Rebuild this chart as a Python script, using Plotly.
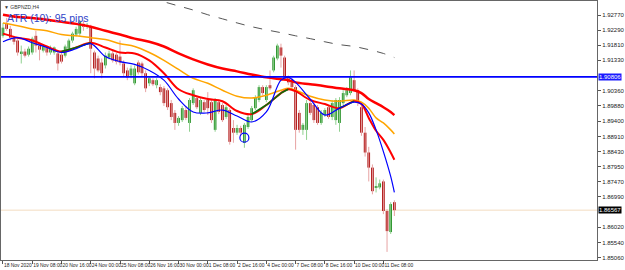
import plotly.graph_objects as go

# ---------------- data ----------------
x_labels = ["18 Nov 2020", "19 Nov 08:00", "20 Nov 16:00", "24 Nov 00:00", "25 Nov 08:00",
            "26 Nov 16:00", "30 Nov 00:00", "1 Dec 08:00", "2 Dec 16:00", "4 Dec 00:00",
            "7 Dec 08:00", "8 Dec 16:00", "10 Dec 00:00", "11 Dec 08:00"]
x_label_bars = [0, 8, 16, 24, 32, 40, 48, 56, 64, 72, 80, 88, 96, 104]

y_tick_vals = [1.92770, 1.92290, 1.91810, 1.91330, 1.90360, 1.89880, 1.89400, 1.88910,
               1.88430, 1.87950, 1.87470, 1.86990, 1.86020, 1.85540, 1.85060]
y_tick_text = ["1.92770", "1.92290", "1.91810", "1.91330", "1.90360", "1.89880", "1.89400", "1.88910",
               "1.88430", "1.87950", "1.87470", "1.86990", "1.86020", "1.85540", "1.85060"]

opens = [1.9211, 1.9252, 1.9233, 1.9205, 1.9196, 1.9155, 1.9161, 1.9151, 1.9158, 1.9211,
         1.9180, 1.9164, 1.9174, 1.9158, 1.9158, 1.9155, 1.9151, 1.9148, 1.9170, 1.9196,
         1.9215, 1.9218, 1.9249, 1.9240, 1.9240, 1.9158, 1.9139, 1.9126, 1.9117, 1.9142,
         1.9155, 1.9151, 1.9145, 1.9123, 1.9101, 1.9085, 1.9060, 1.9126, 1.9123, 1.9092,
         1.9060, 1.9070, 1.9054, 1.9048, 1.9044, 1.9038, 1.8997, 1.8966, 1.8934, 1.8943,
         1.8975, 1.8934, 1.8997, 1.9013, 1.8966, 1.9000, 1.9007, 1.9000, 1.8912, 1.9000,
         1.8991, 1.8953, 1.8975, 1.8918, 1.8903, 1.8918, 1.8871, 1.8921, 1.8943, 1.8981,
         1.9007, 1.9048, 1.9007, 1.9054, 1.9101, 1.9139, 1.9174, 1.9142, 1.9076, 1.9070,
         1.9048, 1.8966, 1.8912, 1.8912, 1.8997, 1.8991, 1.8984, 1.8934, 1.8959, 1.8984,
         1.8953, 1.8943, 1.8934, 1.8997, 1.9022, 1.9029, 1.9070, 1.9038, 1.8984, 1.8903,
         1.8840, 1.8792, 1.8729, 1.8729, 1.8748, 1.8654, 1.8587, 1.8682]
highs = [1.9252, 1.9268, 1.9243, 1.9211, 1.9202, 1.9180, 1.9170, 1.9177, 1.9208, 1.9227,
         1.9186, 1.9183, 1.9180, 1.9180, 1.9177, 1.9164, 1.9158, 1.9183, 1.9202, 1.9224,
         1.9240, 1.9262, 1.9259, 1.9252, 1.9246, 1.9164, 1.9148, 1.9139, 1.9158, 1.9164,
         1.9164, 1.9158, 1.9196, 1.9133, 1.9110, 1.9117, 1.9117, 1.9133, 1.9129, 1.9101,
         1.9082, 1.9076, 1.9076, 1.9057, 1.9051, 1.9044, 1.9007, 1.8975, 1.8956, 1.8988,
         1.8988, 1.9013, 1.9044, 1.9019, 1.9013, 1.9007, 1.9032, 1.9007, 1.9013, 1.9007,
         1.8997, 1.8991, 1.8981, 1.8943, 1.8928, 1.8925, 1.8934, 1.8959, 1.8988, 1.9022,
         1.9054, 1.9054, 1.9054, 1.9101, 1.9148, 1.9186, 1.9186, 1.9148, 1.9085, 1.9076,
         1.9054, 1.8975, 1.8934, 1.9007, 1.9007, 1.8997, 1.8991, 1.8975, 1.8981, 1.8991,
         1.9007, 1.9013, 1.9016, 1.9038, 1.9048, 1.9101, 1.9101, 1.9044, 1.8991, 1.8921,
         1.8858, 1.8802, 1.8761, 1.8754, 1.8754, 1.8660, 1.8682, 1.8688]
lows = [1.9205, 1.9227, 1.9196, 1.9183, 1.9148, 1.9123, 1.9142, 1.9145, 1.9151, 1.9158,
        1.9133, 1.9158, 1.9148, 1.9151, 1.9151, 1.9101, 1.9123, 1.9142, 1.9164, 1.9189,
        1.9208, 1.9211, 1.9227, 1.9233, 1.9092, 1.9076, 1.9095, 1.9076, 1.9107, 1.9136,
        1.9126, 1.9120, 1.9117, 1.9082, 1.9070, 1.9076, 1.9054, 1.9088, 1.9082, 1.9032,
        1.9051, 1.9051, 1.9044, 1.9022, 1.8988, 1.8975, 1.8943, 1.8912, 1.8925, 1.8937,
        1.8943, 1.8906, 1.8991, 1.8978, 1.8959, 1.8969, 1.8959, 1.8934, 1.8906, 1.8962,
        1.8937, 1.8947, 1.8865, 1.8871, 1.8896, 1.8893, 1.8855, 1.8915, 1.8937, 1.8975,
        1.9000, 1.9022, 1.9000, 1.9038, 1.9095, 1.9133, 1.9110, 1.9070, 1.9054, 1.9038,
        1.8849, 1.8903, 1.8896, 1.8880, 1.8959, 1.8934, 1.8928, 1.8928, 1.8953, 1.8947,
        1.8943, 1.8928, 1.8906, 1.8991, 1.9016, 1.9022, 1.9032, 1.8988, 1.8893, 1.8827,
        1.8748, 1.8707, 1.8713, 1.8723, 1.8644, 1.8524, 1.8581, 1.8638]
closes = [1.9237, 1.9233, 1.9205, 1.9192, 1.9158, 1.9161, 1.9148, 1.9170, 1.9202, 1.9180,
          1.9167, 1.9177, 1.9158, 1.9170, 1.9174, 1.9123, 1.9129, 1.9177, 1.9196, 1.9218,
          1.9233, 1.9256, 1.9240, 1.9246, 1.9170, 1.9107, 1.9101, 1.9092, 1.9148, 1.9155,
          1.9133, 1.9129, 1.9126, 1.9092, 1.9079, 1.9107, 1.9107, 1.9095, 1.9092, 1.9044,
          1.9076, 1.9057, 1.9070, 1.9032, 1.8997, 1.8984, 1.8953, 1.8934, 1.8950, 1.8981,
          1.8950, 1.9007, 1.9038, 1.8984, 1.9007, 1.8975, 1.8981, 1.8943, 1.9007, 1.8969,
          1.8943, 1.8984, 1.8874, 1.8903, 1.8918, 1.8903, 1.8928, 1.8953, 1.8981, 1.9016,
          1.9048, 1.9029, 1.9048, 1.9044, 1.9142, 1.9180, 1.9148, 1.9079, 1.9063, 1.9048,
          1.8912, 1.8912, 1.8928, 1.8997, 1.8966, 1.8943, 1.8934, 1.8966, 1.8975, 1.8953,
          1.8997, 1.9007, 1.9007, 1.9029, 1.9038, 1.9079, 1.9038, 1.8997, 1.8903, 1.8840,
          1.8792, 1.8717, 1.8732, 1.8742, 1.8654, 1.8590, 1.8676, 1.86567]

ma_bars = [0, 4, 8, 12, 16, 20, 24, 28, 32, 36, 40, 44, 48, 52, 56, 60, 64, 68, 72, 76,
           78, 80, 84, 88, 92, 96, 98, 100, 102, 104, 106, 107]
ma_blue = [1.9192, 1.9205, 1.9189, 1.9174, 1.9158, 1.9170, 1.9186, 1.9145, 1.9129, 1.9120,
           1.9101, 1.9070, 1.9010, 1.8969, 1.8966, 1.8975, 1.8956, 1.8937, 1.8969, 1.9070,
           1.9079, 1.9063, 1.9010, 1.8959, 1.8981, 1.9000, 1.8994, 1.8966, 1.8912, 1.8843,
           1.8764, 1.8713]
ma_mid = [1.9218, 1.9205, 1.9196, 1.9177, 1.9161, 1.9174, 1.9189, 1.9174, 1.9158, 1.9155,
          1.9133, 1.9092, 1.9041, 1.9022, 1.9010, 1.9003, 1.8972, 1.8962, 1.8991, 1.9029,
          1.9041, 1.9035, 1.9007, 1.8994, 1.8981, 1.9003, 1.8994, 1.8950, 1.8909, 1.8880,
          1.8840, 1.8817]
ma_orange = [1.9252, 1.9243, 1.9233, 1.9227, 1.9215, 1.9211, 1.9205, 1.9199, 1.9186, 1.9177,
             1.9158, 1.9133, 1.9104, 1.9076, 1.9060, 1.9038, 1.9019, 1.9013, 1.9022, 1.9038,
             1.9044, 1.9038, 1.9019, 1.9007, 1.9003, 1.9007, 1.9000, 1.8981, 1.8950, 1.8934,
             1.8912, 1.8899]
ma_slow = [1.9278, 1.9271, 1.9268, 1.9262, 1.9256, 1.9249, 1.9240, 1.9227, 1.9215, 1.9202,
           1.9192, 1.9177, 1.9155, 1.9136, 1.9120, 1.9107, 1.9098, 1.9088, 1.9079, 1.9073,
           1.9070, 1.9063, 1.9057, 1.9051, 1.9044, 1.9038, 1.9029, 1.9010, 1.8997, 1.8984,
           1.8969, 1.8959]
ma_long_bars = [40, 44, 48, 52, 56, 60, 64, 68, 72, 76, 80, 84, 88, 92, 96, 100, 104, 107]
ma_long = [1.9331, 1.9319, 1.9306, 1.9293, 1.9278, 1.9265, 1.9252, 1.9240, 1.9230, 1.9221,
           1.9211, 1.9202, 1.9192, 1.9183, 1.9177, 1.9167, 1.9155, 1.9142]

hline_level = 1.90806
bid_level = 1.86567
marker_bar = 66
marker_price = 1.8887

# ---------------- figure ----------------
fig = go.Figure()
n = len(closes)
bars = list(range(n))

# wicks
for up, col in ((True, "#8fd08f"), (False, "#e7a3a3")):
    wx, wy = [], []
    for i in bars:
        if (closes[i] >= opens[i]) == up:
            wx += [i, i, None]
            wy += [lows[i], highs[i], None]
    fig.add_trace(go.Scatter(x=wx, y=wy, mode="lines", line=dict(color=col, width=1),
                             hoverinfo="skip"))

# bodies
for up, col in ((True, "#1e8c1e"), (False, "#a80000")):
    bx, bb, bh = [], [], []
    for i in bars:
        if (closes[i] >= opens[i]) == up:
            bx.append(i)
            bb.append(min(opens[i], closes[i]))
            bh.append(max(abs(closes[i] - opens[i]), 0.00015))
    fig.add_trace(go.Bar(x=bx, y=bh, base=bb, width=0.72, marker=dict(color=col, line=dict(width=0))))

# moving averages
fig.add_trace(go.Scatter(x=ma_long_bars, y=ma_long, mode="lines",
                         line=dict(color="#555555", width=1, dash="dash", shape="spline")))
fig.add_trace(go.Scatter(x=ma_bars, y=ma_slow, mode="lines",
                         line=dict(color="#ff0000", width=2.5, shape="spline")))
fig.add_trace(go.Scatter(x=ma_bars, y=ma_orange, mode="lines",
                         line=dict(color="#ffa500", width=1.5, shape="spline")))
fig.add_trace(go.Scatter(x=ma_bars, y=ma_mid, mode="lines",
                         line=dict(color="#ff0000", width=2, shape="spline")))
gx, gy = [], []
for k in range(len(ma_bars) - 1):
    if ma_mid[k + 1] > ma_mid[k]:
        gx += [ma_bars[k], ma_bars[k + 1], None]
        gy += [ma_mid[k], ma_mid[k + 1], None]
fig.add_trace(go.Scatter(x=gx, y=gy, mode="lines", line=dict(color="#0a6e0a", width=1.6)))
fig.add_trace(go.Scatter(x=ma_bars, y=ma_blue, mode="lines",
                         line=dict(color="#0000ff", width=1.2, shape="spline")))

fig.add_trace(go.Scatter(x=[marker_bar], y=[marker_price], mode="markers",
                         marker=dict(symbol="circle-open", size=9, color="#0000ff",
                                     line=dict(width=1.2, color="#0000ff"))))

fig.add_shape(type="line", xref="paper", x0=0, x1=1, yref="y", y0=bid_level, y1=bid_level,
              line=dict(color="#f3dcc0", width=1), layer="below")
fig.add_shape(type="line", xref="paper", x0=0, x1=1, yref="y", y0=hline_level, y1=hline_level,
              line=dict(color="#0000ff", width=1.6))

font_y = dict(family="Liberation Sans, Arial, sans-serif", size=6, color="#222222")
font_x = dict(family="Liberation Sans, Arial, sans-serif", size=4.9, color="#222222")

fig.add_annotation(xref="paper", yref="y", x=1, y=hline_level, xanchor="left", xshift=1,
                   text="1.90806", showarrow=False, bgcolor="#1a1aff", borderpad=0,
                   font=dict(family="Liberation Sans, Arial, sans-serif", size=6, color="white"))
fig.add_annotation(xref="paper", yref="y", x=1, y=bid_level, xanchor="left", xshift=1,
                   text="1.86567", showarrow=False, bgcolor="#000000", borderpad=0,
                   font=dict(family="Liberation Sans, Arial, sans-serif", size=6, color="white"))
fig.add_annotation(xref="paper", yref="paper", x=0, y=1, xanchor="left", yanchor="top",
                   xshift=4, yshift=-9, text="ATR (10): 95 pips", showarrow=False,
                   font=dict(family="Liberation Sans, Arial, sans-serif", size=10.5, color="#2f45c8"))
fig.add_annotation(xref="paper", yref="paper", x=0, y=1, xanchor="left", yanchor="top",
                   xshift=1, yshift=-1, text="▼ GBPNZD,H4", showarrow=False,
                   font=dict(family="Liberation Sans, Arial, sans-serif", size=5, color="#333333"))

fig.update_layout(
    width=625, height=270,
    margin=dict(l=0, r=22, t=0, b=10),
    plot_bgcolor="white", paper_bgcolor="white",
    showlegend=False, barmode="overlay",
    xaxis=dict(range=[-0.54, 162.4], tickvals=x_label_bars, ticktext=x_labels,
               ticks="outside", ticklen=3, tickcolor="#555555", tickfont=font_x,
               ticklabelposition="outside right", tickangle=0,
               showline=True, linecolor="#666666", linewidth=1, mirror=True,
               showgrid=False, zeroline=False),
    yaxis=dict(range=[1.84982, 1.93217], side="right", tickvals=y_tick_vals, ticktext=y_tick_text,
               ticks="outside", ticklen=3, tickcolor="#555555", tickfont=font_y,
               showline=True, linecolor="#666666", linewidth=1, mirror=True,
               showgrid=False, zeroline=False),
)

fig.write_html("out.html")
